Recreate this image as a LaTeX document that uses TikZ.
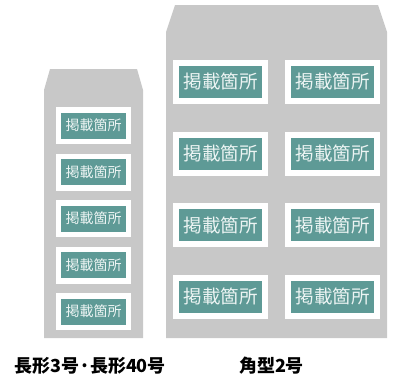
\documentclass[tikz,border=0pt]{standalone}
\usepackage{fontspec}
\newfontfamily\jp{Noto Sans CJK JP}
\definecolor{envgray}{RGB}{200,200,200}
\definecolor{tealc}{RGB}{94,154,150}
\definecolor{tagtext}{RGB}{236,244,243}
\begin{document}
\begin{tikzpicture}[x=1pt,y=-1pt,
  env/.style={fill=envgray,draw=none},
  slotS/.style={fill=white,draw=none,minimum width=75pt,minimum height=37pt,inner sep=0pt},
  slotL/.style={fill=white,draw=none,minimum width=95pt,minimum height=44pt,inner sep=0pt},
  tagS/.style={fill=tealc,text=tagtext,minimum width=65pt,minimum height=26pt,inner sep=0pt,font=\jp\fontsize{14}{14}\selectfont},
  tagL/.style={fill=tealc,text=tagtext,minimum width=83pt,minimum height=32pt,inner sep=0pt,font=\jp\fontsize{18.5}{18.5}\selectfont},
  captext/.style={font=\jp\bfseries\fontsize{18}{18}\selectfont,text=black,inner sep=0pt}]
\useasboundingbox (0,0) rectangle (395,378);
% small envelope
\path[env] (50,69) -- (137,69) -- (143,90) -- (143,338) -- (44,338) -- (44,90) -- cycle;
% large envelope
\path[env] (175,5) -- (378,5) -- (387,32) -- (387,338) -- (166,338) -- (166,32) -- cycle;
% small slots
\foreach \i/\y in {1/125.5,2/172,3/218.5,4/265,5/311.5}{
  \node[slotS] (s\i) at (93.5,\y) {};
  \node[tagS] (ts\i) at (s\i) {掲載箇所};
}
% large slots
\foreach \i/\y in {1/81.5,2/153.5,3/225,4/296.5}{
  \node[slotL] (la\i) at (220.5,\y) {};
  \node[tagL] (tla\i) at (la\i) {掲載箇所};
  \node[slotL] (lb\i) at (332.5,\y) {};
  \node[tagL] (tlb\i) at (lb\i) {掲載箇所};
}
\node[captext] (capS) at (90,366) {長形3号·長形40号};
\node[captext] (capL) at (271.5,366) {角型2号};
\end{tikzpicture}
\end{document}
